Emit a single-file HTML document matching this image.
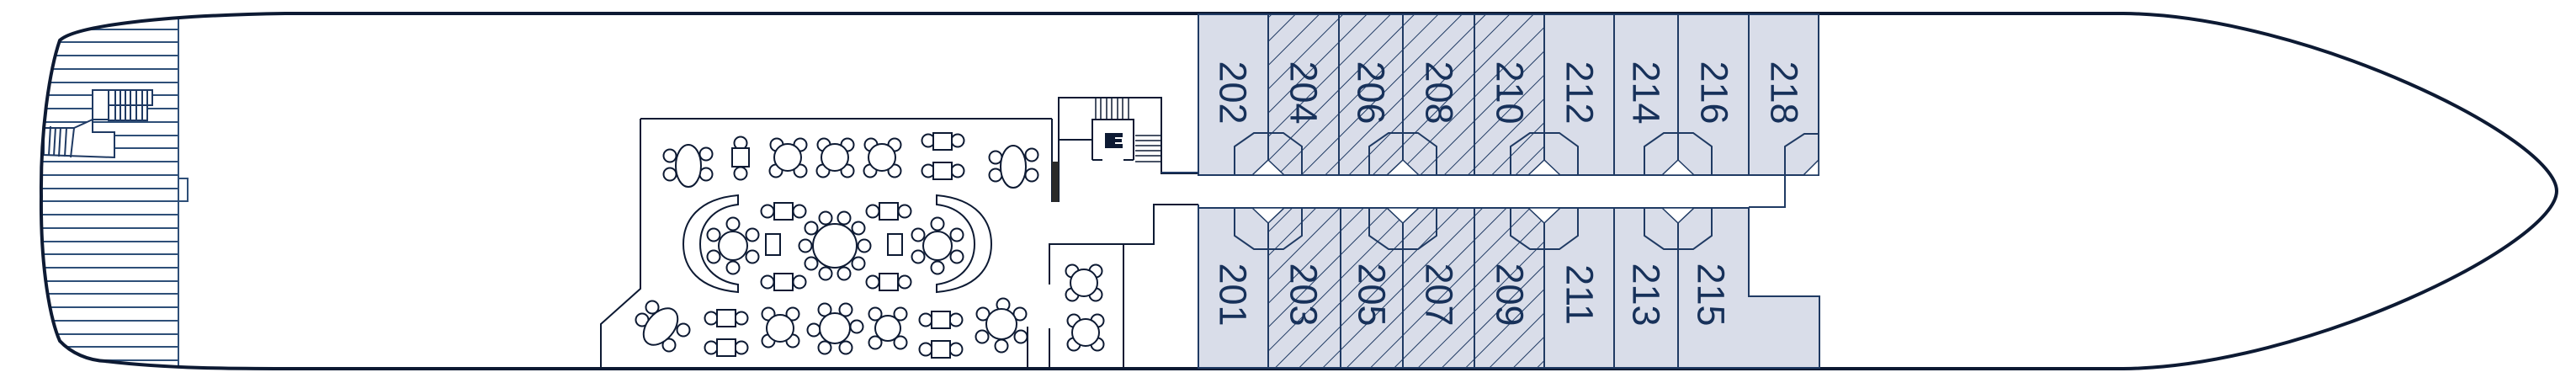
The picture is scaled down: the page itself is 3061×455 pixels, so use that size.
<!DOCTYPE html>
<html><head><meta charset="utf-8"><style>html,body{margin:0;padding:0;background:#fff}svg{display:block}</style></head><body>
<svg width="3061" height="455" viewBox="0 0 3061 455" xmlns="http://www.w3.org/2000/svg">
<defs>
<pattern id="h" patternUnits="userSpaceOnUse" width="20" height="20" patternTransform="rotate(45)">
<line x1="0" y1="0" x2="0" y2="20" stroke="#1f3a63" stroke-width="2"/>
</pattern>
<clipPath id="hull"><path d="M339,16 C200,18 90,30 71,48 C60,80 48,150 49,233 C48,320 60,380 71,405 C85,420 105,428 125,429 C200,438 280,438 339,438 Z"/></clipPath>
</defs>

<g clip-path="url(#hull)" stroke="#2e4f78" stroke-width="2">
<line x1="0" y1="19" x2="212" y2="19"/><line x1="0" y1="35" x2="212" y2="35"/><line x1="0" y1="50" x2="212" y2="50"/><line x1="0" y1="66" x2="212" y2="66"/>
<line x1="0" y1="82" x2="212" y2="82"/><line x1="0" y1="98" x2="212" y2="98"/><line x1="0" y1="113" x2="212" y2="113"/><line x1="0" y1="129" x2="212" y2="129"/>
<line x1="0" y1="145" x2="212" y2="145"/><line x1="0" y1="161" x2="212" y2="161"/><line x1="0" y1="176" x2="212" y2="176"/><line x1="0" y1="192" x2="212" y2="192"/>
<line x1="0" y1="208" x2="212" y2="208"/><line x1="0" y1="224" x2="212" y2="224"/><line x1="0" y1="239" x2="212" y2="239"/><line x1="0" y1="255" x2="212" y2="255"/>
<line x1="0" y1="271" x2="212" y2="271"/><line x1="0" y1="287" x2="212" y2="287"/><line x1="0" y1="302" x2="212" y2="302"/><line x1="0" y1="318" x2="212" y2="318"/>
<line x1="0" y1="334" x2="212" y2="334"/><line x1="0" y1="349" x2="212" y2="349"/><line x1="0" y1="365" x2="212" y2="365"/><line x1="0" y1="381" x2="212" y2="381"/>
<line x1="0" y1="397" x2="212" y2="397"/><line x1="0" y1="412" x2="212" y2="412"/><line x1="0" y1="428" x2="212" y2="428"/>
</g>
<g stroke="#1f3a63" stroke-width="2" fill="#fff">
<path d="M110,107 H181 V125 H175 V143 H129 V142 H110 L88,152 H52 V184 L136,187 V157 H110 Z"/>
<line x1="110" y1="107" x2="110" y2="142"/><line x1="129" y1="107" x2="129" y2="143"/>
<line x1="129" y1="125" x2="181" y2="125"/>
<line x1="137" y1="107" x2="137" y2="143"/><line x1="143" y1="107" x2="143" y2="143"/><line x1="149" y1="107" x2="149" y2="143"/><line x1="155" y1="107" x2="155" y2="143"/><line x1="162" y1="107" x2="162" y2="143"/><line x1="169" y1="107" x2="169" y2="143"/><line x1="175" y1="107" x2="175" y2="125"/>
<line x1="60" y1="150" x2="58" y2="185"/><line x1="66" y1="151" x2="64" y2="185"/><line x1="72" y1="151" x2="70" y2="186"/><line x1="79" y1="152" x2="77" y2="186"/><line x1="88" y1="152" x2="84" y2="187"/>
</g>
<rect x="137" y="146" width="72" height="8" fill="#fff"/>
<line x1="212" y1="22" x2="212" y2="434" stroke="#2e4f78" stroke-width="2"/>
<path d="M212,212 H223 V239 H212" fill="none" stroke="#2e4f78" stroke-width="2"/>

<path d="M339,16 C200,18 90,30 71,48 C60,80 48,150 49,233 C48,320 60,380 71,405 C85,420 105,428 125,429 C200,438 280,438 339,438 H2523 C2740,436 3038,289 3038,227 C3038,165 2740,18 2523,16 Z" fill="none" stroke="#0d1a33" stroke-width="4"/>

<g stroke="#0d1a33" stroke-width="2" fill="none">
<path d="M761,141 H1250"/>
<path d="M761,141 V343 L714,385 V437"/>
<path d="M1250,141 V240 M1258,141 V116 H1380 V206 H1424"/>
<path d="M1258,141 V240"/>
<path d="M1258,166 H1298 M1298,190 V142 H1347 V190 M1298,190 H1310 M1335,190 H1347"/>
<path d="M1424,243 H1371 V290 H1247 V338 M1247,390 V437 M1335,290 V437"/>
<path d="M1221,388 V437"/>
</g>
<rect x="1250" y="192" width="8" height="48" fill="#2a2a2a"/>
<g stroke="#0d1a33" stroke-width="1.5">
<line x1="1302" y1="116" x2="1302" y2="141"/><line x1="1308" y1="116" x2="1308" y2="141"/><line x1="1315" y1="116" x2="1315" y2="141"/><line x1="1321" y1="116" x2="1321" y2="141"/><line x1="1328" y1="116" x2="1328" y2="141"/><line x1="1334" y1="116" x2="1334" y2="141"/><line x1="1341" y1="116" x2="1341" y2="141"/>
<line x1="1349" y1="161" x2="1380" y2="161"/><line x1="1349" y1="167" x2="1380" y2="167"/><line x1="1349" y1="173" x2="1380" y2="173"/><line x1="1349" y1="179" x2="1380" y2="179"/><line x1="1349" y1="185" x2="1380" y2="185"/><line x1="1349" y1="192" x2="1380" y2="192"/>
</g>
<path d="M1313,158 H1334 V163 H1325 V165 H1333 V169 H1325 V171 H1334 V176 H1313 Z" fill="#0d1a33"/>

<g stroke="#1f3a63" stroke-width="2">
<rect x="1424" y="17" width="737" height="191" fill="#d9dde9"/>
<path d="M1424,247 H2078 V352 H2162 V437 H1424 Z" fill="#d9dde9"/>
<rect x="1507" y="17" width="328" height="191" fill="url(#h)"/>
<rect x="1507" y="247" width="328" height="190" fill="url(#h)"/>
<path d="M1507,17 V208 M1591,17 V208 M1667,17 V208 M1752,17 V208 M1835,17 V208 M1918,17 V208 M1994,17 V208 M2078,17 V208" fill="none"/>
<path d="M1507,247 V437 M1593,247 V437 M1667,247 V437 M1752,247 V437 M1835,247 V437 M1918,247 V437 M1994,247 V437" fill="none"/>
<path d="M1424,205 H1380 M1424,243 V437 M2121,208 V246 H2078" fill="none"/>
<g fill="none">
<path d="M1467,208 V174 L1490,158 H1525 L1547,174 V208"/>
<path d="M1627,208 V174 L1650,158 H1685 L1707,174 V208"/>
<path d="M1795,208 V174 L1818,158 H1853 L1875,174 V208"/>
<path d="M1954,208 V174 L1977,158 H2012 L2034,174 V208"/>
<path d="M2121,208 V174 L2144,159 H2161"/>
<path d="M1467,247 V280 L1490,296 H1525 L1547,280 V247"/>
<path d="M1627,247 V280 L1650,296 H1685 L1707,280 V247"/>
<path d="M1795,247 V280 L1818,296 H1853 L1875,280 V247"/>
<path d="M1954,247 V280 L1977,296 H2012 L2034,280 V247"/>
</g>
<g fill="#fff" stroke-width="1.5">
<path d="M1488,208 L1507,190 L1526,208 Z"/><path d="M1648,208 L1667,190 L1686,208 Z"/><path d="M1816,208 L1835,190 L1854,208 Z"/><path d="M1975,208 L1994,190 L2013,208 Z"/>
<path d="M2143,208 L2161,190 V208 Z"/>
<path d="M1488,247 L1507,265 L1526,247 Z"/><path d="M1648,247 L1667,265 L1686,247 Z"/><path d="M1816,247 L1835,265 L1854,247 Z"/><path d="M1975,247 L1994,265 L2013,247 Z"/>
</g>
</g>
<g font-family="Liberation Sans, sans-serif" font-size="45" fill="#17315a" text-anchor="middle" dominant-baseline="central">
<text transform="translate(1465,110) rotate(90)">202</text>
<text transform="translate(1549,110) rotate(90)">204</text>
<text transform="translate(1629,110) rotate(90)">206</text>
<text transform="translate(1710,110) rotate(90)">208</text>
<text transform="translate(1794,110) rotate(90)">210</text>
<text transform="translate(1877,110) rotate(90)">212</text>
<text transform="translate(1956,110) rotate(90)">214</text>
<text transform="translate(2037,110) rotate(90)">216</text>
<text transform="translate(2120,110) rotate(90)">218</text>
<text transform="translate(1465,350) rotate(90)">201</text>
<text transform="translate(1549,350) rotate(90)">203</text>
<text transform="translate(1630,350) rotate(90)">205</text>
<text transform="translate(1710,350) rotate(90)">207</text>
<text transform="translate(1794,350) rotate(90)">209</text>
<text transform="translate(1877,350) rotate(90)">211</text>
<text transform="translate(1956,350) rotate(90)">213</text>
<text transform="translate(2033,350) rotate(90)">215</text>
</g>

<g stroke="#0d1a33" stroke-width="2" fill="#fff">
<circle cx="796" cy="185" r="7.5"/><circle cx="839" cy="183" r="7.5"/><circle cx="796" cy="207" r="7.5"/><circle cx="839" cy="207" r="7.5"/>
<ellipse cx="818" cy="197" rx="15" ry="25"/>
<circle cx="880" cy="170" r="7.5"/><circle cx="880" cy="206" r="7.5"/><rect x="870" y="176" width="20" height="22"/>
<circle cx="923" cy="172" r="7.5"/><circle cx="951" cy="172" r="7.5"/><circle cx="922" cy="203" r="7.5"/><circle cx="951" cy="203" r="7.5"/><circle cx="936" cy="187" r="16"/>
<circle cx="979" cy="172" r="7.5"/><circle cx="1007" cy="172" r="7.5"/><circle cx="978" cy="203" r="7.5"/><circle cx="1007" cy="203" r="7.5"/><circle cx="992" cy="187" r="16"/>
<circle cx="1035" cy="172" r="7.5"/><circle cx="1063" cy="172" r="7.5"/><circle cx="1034" cy="203" r="7.5"/><circle cx="1063" cy="203" r="7.5"/><circle cx="1048" cy="187" r="16"/>
<circle cx="1103" cy="167" r="7.5"/><circle cx="1138" cy="167" r="7.5"/><rect x="1109" y="158" width="22" height="20"/>
<circle cx="1103" cy="203" r="7.5"/><circle cx="1138" cy="203" r="7.5"/><rect x="1109" y="193" width="22" height="20"/>
<circle cx="1183" cy="187" r="7.5"/><circle cx="1226" cy="184" r="7.5"/><circle cx="1183" cy="208" r="7.5"/><circle cx="1226" cy="208" r="7.5"/>
<ellipse cx="1204" cy="198" rx="15" ry="25"/>
<path d="M877,232 C830,236 812,262 812,290 C812,318 830,343 877,347 V338 C850,334 832,316 832,290 C832,264 850,246 877,243 Z"/>
<path d="M1113,232 C1160,236 1178,262 1178,290 C1178,318 1160,343 1113,347 V338 C1140,334 1158,316 1158,290 C1158,264 1140,246 1113,243 Z"/>
<circle cx="871" cy="266" r="7.5"/><circle cx="871" cy="318" r="7.5"/><circle cx="894" cy="279" r="7.5"/><circle cx="894" cy="305" r="7.5"/><circle cx="848" cy="279" r="7.5"/><circle cx="848" cy="305" r="7.5"/>
<circle cx="871" cy="292" r="17"/>
<circle cx="1114" cy="266" r="7.5"/><circle cx="1114" cy="318" r="7.5"/><circle cx="1137" cy="279" r="7.5"/><circle cx="1137" cy="305" r="7.5"/><circle cx="1091" cy="279" r="7.5"/><circle cx="1091" cy="305" r="7.5"/>
<circle cx="1114" cy="292" r="17"/>
<rect x="910" y="278" width="17" height="25"/><rect x="1055" y="278" width="17" height="25"/>
<circle cx="912" cy="251" r="7.5"/><circle cx="950" cy="251" r="7.5"/><rect x="920" y="241" width="22" height="20"/>
<circle cx="912" cy="335" r="7.5"/><circle cx="950" cy="335" r="7.5"/><rect x="920" y="325" width="22" height="20"/>
<circle cx="1037" cy="251" r="7.5"/><circle cx="1075" cy="251" r="7.5"/><rect x="1045" y="241" width="22" height="20"/>
<circle cx="1037" cy="335" r="7.5"/><circle cx="1075" cy="335" r="7.5"/><rect x="1045" y="325" width="22" height="20"/>
<circle cx="1027" cy="292" r="7.5"/><circle cx="1020" cy="313" r="7.5"/><circle cx="1003" cy="325" r="7.5"/><circle cx="981" cy="325" r="7.5"/><circle cx="964" cy="313" r="7.5"/><circle cx="957" cy="292" r="7.5"/><circle cx="964" cy="271" r="7.5"/><circle cx="981" cy="259" r="7.5"/><circle cx="1003" cy="259" r="7.5"/><circle cx="1020" cy="271" r="7.5"/>
<circle cx="992" cy="292" r="26"/>
<circle cx="775" cy="365" r="7.5"/><circle cx="812" cy="392" r="7.5"/><circle cx="795" cy="410" r="7.5"/><circle cx="763" cy="380" r="7.5"/>
<ellipse cx="785" cy="388" rx="16" ry="25" transform="rotate(40 785 388)"/>
<circle cx="845" cy="378" r="7.5"/><circle cx="881" cy="378" r="7.5"/><rect x="852" y="368" width="22" height="20"/>
<circle cx="845" cy="413" r="7.5"/><circle cx="881" cy="413" r="7.5"/><rect x="852" y="403" width="22" height="20"/>
<circle cx="913" cy="373" r="7.5"/><circle cx="942" cy="373" r="7.5"/><circle cx="913" cy="405" r="7.5"/><circle cx="942" cy="405" r="7.5"/><circle cx="927" cy="390" r="16"/>
<circle cx="980" cy="368" r="7.5"/><circle cx="1005" cy="368" r="7.5"/><circle cx="967" cy="392" r="7.5"/><circle cx="1018" cy="388" r="7.5"/><circle cx="980" cy="413" r="7.5"/><circle cx="1005" cy="413" r="7.5"/><circle cx="992" cy="390" r="18"/>
<circle cx="1040" cy="373" r="7.5"/><circle cx="1070" cy="373" r="7.5"/><circle cx="1040" cy="407" r="7.5"/><circle cx="1070" cy="407" r="7.5"/><circle cx="1055" cy="390" r="15"/>
<circle cx="1100" cy="380" r="7.5"/><circle cx="1136" cy="380" r="7.5"/><rect x="1107" y="370" width="22" height="20"/>
<circle cx="1100" cy="415" r="7.5"/><circle cx="1136" cy="415" r="7.5"/><rect x="1107" y="405" width="22" height="20"/>
<circle cx="1192" cy="362" r="7.5"/><circle cx="1168" cy="373" r="7.5"/><circle cx="1212" cy="373" r="7.5"/><circle cx="1167" cy="400" r="7.5"/><circle cx="1213" cy="400" r="7.5"/><circle cx="1190" cy="411" r="7.5"/><circle cx="1190" cy="385" r="18"/>
<circle cx="1274" cy="322" r="7.5"/><circle cx="1302" cy="322" r="7.5"/><circle cx="1274" cy="350" r="7.5"/><circle cx="1302" cy="350" r="7.5"/><circle cx="1288" cy="336" r="16"/>
<circle cx="1276" cy="381" r="7.5"/><circle cx="1304" cy="381" r="7.5"/><circle cx="1276" cy="409" r="7.5"/><circle cx="1304" cy="409" r="7.5"/><circle cx="1290" cy="395" r="16"/>
</g>
</svg>
</body></html>
